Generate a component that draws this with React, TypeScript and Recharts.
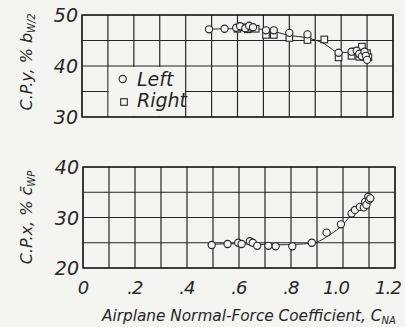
import React from 'react';
import { ComposedChart, Scatter, Line, XAxis, YAxis, CartesianGrid, ReferenceArea, Legend } from 'recharts';

const BG = '#f4f4f1';
const INK = '#262626';
const FONT = '"DejaVu Sans", "Liberation Sans", sans-serif';

const xGridTicks = [0, 0.1, 0.2, 0.3, 0.4, 0.5, 0.6, 0.7, 0.8, 0.9, 1.0, 1.1, 1.2];
const xTickLabels = ['0', '', '.2', '', '.4', '', '.6', '', '.8', '', '1.0', '', '1.2'];
const topYTicks = [30, 35, 40, 45, 50];
const topYTickLabels = ['30', '', '40', '', '50'];
const botYTicks = [20, 25, 30, 35, 40];
const botYTickLabels = ['20', '', '30', '', '40'];

// Upper panel: spanwise center of pressure, C.P.y (% b_W/2) vs C_NA
const leftCPy: [number, number][] = [
  [0.49, 47.2], [0.55, 47.3], [0.595, 47.5], [0.61, 47.8], [0.63, 47.4], [0.645, 47.9],
  [0.66, 47.6], [0.71, 47.0], [0.74, 47.0], [0.8, 46.5], [0.87, 46.2], [0.99, 42.6],
  [1.04, 42.8], [1.06, 43.0], [1.07, 42.4], [1.08, 41.9], [1.09, 42.8], [1.095, 42.0], [1.1, 41.2],
];
const rightCPy: [number, number][] = [
  [0.6, 47.3], [0.62, 47.6], [0.64, 47.2], [0.655, 47.5], [0.67, 47.3], [0.71, 46.1],
  [0.74, 46.1], [0.8, 45.5], [0.87, 45.1], [0.935, 45.2], [0.99, 41.7], [1.04, 42.0],
  [1.06, 42.9], [1.07, 41.8], [1.08, 43.8], [1.09, 42.2], [1.1, 42.5], [1.105, 41.7],
];
const fairCPy: [number, number][] = [
  [0.475, 47.2], [0.55, 47.3], [0.65, 47.35], [0.72, 47.0], [0.8, 46.0], [0.87, 45.5],
  [0.93, 44.5], [0.99, 42.7], [1.05, 42.6], [1.11, 42.4],
];

// Lower panel: chordwise center of pressure, C.P.x (% c_WP) vs C_NA
const leftCPx: [number, number][] = [
  [0.495, 24.55], [0.556, 24.75], [0.597, 25.0], [0.61, 24.75], [0.642, 25.3], [0.653, 25.0],
  [0.67, 24.4], [0.713, 24.4], [0.741, 24.3], [0.805, 24.3], [0.88, 25.0], [0.937, 27.0],
  [0.992, 28.65], [1.033, 30.8], [1.046, 31.5], [1.065, 32.1], [1.08, 32.0], [1.085, 33.1],
  [1.09, 32.5], [1.097, 34.1], [1.1, 33.5], [1.105, 33.8],
];
const fairCPx: [number, number][] = [
  [0.48, 24.7], [0.6, 24.8], [0.75, 24.6], [0.88, 24.9], [0.95, 26.6], [1.0, 28.6],
  [1.04, 31.0], [1.08, 32.4], [1.1, 34.0],
];

const toPts = (a: [number, number][]) => a.map(([x, y]) => ({ x, y }));

const labelFor = (ticks: number[], labels: string[], v: number) => {
  const i = ticks.findIndex((t) => Math.abs(t - v) < 1e-6);
  return i >= 0 ? labels[i] : '';
};

const CircleShape = (p: any) => (
  <circle cx={p.cx} cy={p.cy} r={3.6} fill={BG} stroke={INK} strokeWidth={1.1} />
);
const SquareShape = (p: any) => (
  <rect x={p.cx - 3.3} y={p.cy - 3.3} width={6.6} height={6.6} fill={BG} stroke={INK} strokeWidth={1.1} />
);

const makeYTick = (ticks: number[], labels: string[]) => (p: any) => {
  const t = labelFor(ticks, labels, p.payload.value);
  if (!t) return <g />;
  return (
    <text x={p.x - 4} y={p.y + 7} textAnchor="end" fontFamily={FONT} fontStyle="italic" fontSize={19} fill={INK}>
      {t}
    </text>
  );
};

const XTick = (p: any) => {
  const t = labelFor(xGridTicks, xTickLabels, p.payload.value);
  if (!t) return <g />;
  const shift = t.length > 2 ? -7 : 0;
  return (
    <text x={p.x + shift} y={p.y + 26} textAnchor="middle" fontFamily={FONT} fontStyle="italic" fontSize={18} letterSpacing={-0.8} fill={INK}>
      {t}
    </text>
  );
};

const EmptyTick = () => <g />;

const makeYLabel = (main: string, sub: string, dyCenter: number, size: number) => (props: any) => {
  const vb = props.viewBox || { x: 0, y: 0, width: 82, height: 100 };
  const cx = vb.x + 32;
  const cy = vb.y + vb.height / 2 + dyCenter;
  return (
    <text
      transform={`translate(${cx},${cy}) rotate(-90)`}
      x={0}
      y={0}
      textAnchor="middle"
      fontFamily={FONT}
      fontStyle="italic"
      fontSize={size}
      fill={INK}
    >
      {main}
      <tspan fontSize={size * 0.62} dy={3}>{sub}</tspan>
    </text>
  );
};

const XTitle = (props: any) => {
  const vb = props.viewBox || { x: 83, y: 268, width: 312, height: 59 };
  return (
    <text
      x={vb.x + 19}
      y={vb.y + 53}
      fontFamily={FONT}
      fontStyle="italic"
      fontSize={15.3}
      fill={INK}
    >
      Airplane Normal-Force Coefficient, C<tspan fontSize={10} dy={3}>NA</tspan>
    </text>
  );
};

const renderLegend = () => (
  <svg width={80} height={50} style={{ display: 'block', overflow: 'visible' }}>
    <circle cx={8.7} cy={13} r={3.6} fill={BG} stroke={INK} strokeWidth={1.1} />
    <text x={23} y={20} fontFamily={FONT} fontStyle="italic" fontSize={19} fill={INK}>Left</text>
    <rect x={6.7} y={32.7} width={6.6} height={6.6} fill={BG} stroke={INK} strokeWidth={1.1} />
    <text x={23} y={41} fontFamily={FONT} fontStyle="italic" fontSize={19} fill={INK}>Right</text>
  </svg>
);

export default function App() {
  return (
    <div style={{ position: 'absolute', left: 0, top: 0, width: 405, height: 327, background: BG, overflow: 'hidden' }}>
      <div style={{ position: 'absolute', left: 0, top: 0 }}>
        <ComposedChart width={405} height={140} margin={{ top: 15, right: 12, bottom: 0, left: 0 }}>
          <CartesianGrid stroke={INK} strokeWidth={1.2} fill="none" />
          <XAxis
            type="number"
            dataKey="x"
            domain={[0, 1.2]}
            ticks={xGridTicks}
            tick={EmptyTick}
            tickSize={0}
            axisLine={false}
            tickLine={false}
            height={23}
            allowDataOverflow
          />
          <YAxis
            type="number"
            dataKey="y"
            domain={[30, 50]}
            ticks={topYTicks}
            width={82}
            tick={makeYTick(topYTicks, topYTickLabels)}
            tickSize={0}
            tickMargin={0}
            axisLine={false}
            tickLine={false}
            label={makeYLabel('C.P.y, % b', 'W/2', -4, 16)}
            allowDataOverflow
          />
          <ReferenceArea x1={0.103} x2={0.397} y1={30.2} y2={39.8} fill={BG} fillOpacity={1} stroke="none" ifOverflow="hidden" />
          <ReferenceArea x1={0} x2={1.2} y1={30} y2={50} fill="none" stroke={INK} strokeWidth={1.5} ifOverflow="visible" />
          <Line data={toPts(fairCPy)} dataKey="y" type="monotone" stroke={INK} strokeWidth={1} dot={false} isAnimationActive={false} legendType="none" />
          <Scatter data={toPts(rightCPy)} dataKey="y" shape={SquareShape} isAnimationActive={false} />
          <Scatter data={toPts(leftCPy)} dataKey="y" shape={CircleShape} isAnimationActive={false} />
          <Legend
            layout="vertical"
            align="center"
            verticalAlign="middle"
            content={renderLegend}
            wrapperStyle={{ position: 'absolute', left: 114, top: 66, width: 80, height: 50 }}
          />
        </ComposedChart>
      </div>
      <div style={{ position: 'absolute', left: 0, top: 140 }}>
        <ComposedChart width={405} height={187} margin={{ top: 27, right: 10, bottom: 0, left: 0 }}>
          <CartesianGrid stroke={INK} strokeWidth={1.2} fill="none" />
          <XAxis
            type="number"
            dataKey="x"
            domain={[0, 1.2]}
            ticks={xGridTicks}
            tick={XTick}
            tickSize={0}
            tickMargin={0}
            axisLine={false}
            tickLine={false}
            height={59}
            label={XTitle}
            allowDataOverflow
          />
          <YAxis
            type="number"
            dataKey="y"
            domain={[20, 40]}
            ticks={botYTicks}
            width={83}
            tick={makeYTick(botYTicks, botYTickLabels)}
            tickSize={0}
            tickMargin={0}
            axisLine={false}
            tickLine={false}
            label={makeYLabel('C.P.x, % c\u0304', 'WP', 0, 16)}
            allowDataOverflow
          />
          <ReferenceArea x1={0} x2={1.2} y1={20} y2={40} fill="none" stroke={INK} strokeWidth={1.5} ifOverflow="visible" />
          <Line data={toPts(fairCPx)} dataKey="y" type="monotone" stroke={INK} strokeWidth={1} dot={false} isAnimationActive={false} />
          <Scatter data={toPts(leftCPx)} dataKey="y" shape={CircleShape} isAnimationActive={false} />
        </ComposedChart>
      </div>
    </div>
  );
}
